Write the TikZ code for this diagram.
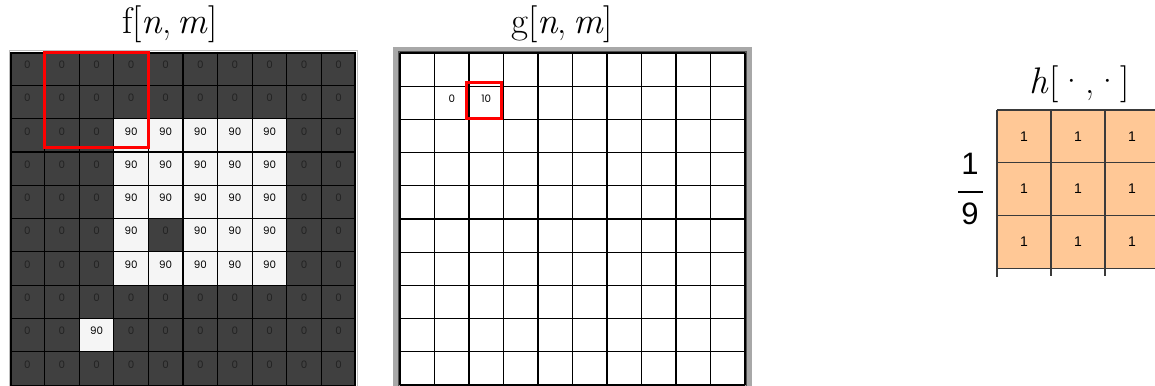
\documentclass[tikz,border=0pt]{standalone}
\usepackage{fontspec}
\newfontfamily\cellfont{Poppins}
\newfontfamily\fracfont{Liberation Sans}
\definecolor{darkcell}{HTML}{404040}
\definecolor{lightcell}{HTML}{F5F5F5}
\definecolor{darktext}{HTML}{222222}
\definecolor{peach}{HTML}{FFC896}
\definecolor{hline}{HTML}{3A3A3A}
\definecolor{framegray}{HTML}{A8A8A8}
\definecolor{frameinner}{HTML}{505050}
\definecolor{boxred}{HTML}{FF0000}
\tikzset{
  fcell/.style={rectangle,inner sep=0pt,minimum width=34.6pt,minimum height=33.3pt},
  dcell/.style={fcell,fill=darkcell},
  wcell/.style={fcell,fill=lightcell},
  gcell/.style={rectangle,inner sep=0pt,minimum width=34.5pt,minimum height=33.2pt},
  hcell/.style={rectangle,inner sep=0pt,minimum width=54pt,minimum height=52.7pt,fill=peach},
  numtxt/.style={font=\cellfont\fontsize{10.3}{12}\selectfont},
  hnum/.style={font=\fracfont\fontsize{14}{16}\selectfont},
  gridline/.style={black,line width=1.2pt},
  hgrid/.style={hline,line width=1.2pt},
  redbox/.style={boxred,line width=3pt},
  title/.style={font=\fontsize{37}{42}\selectfont,anchor=base,inner sep=0pt},
  fracnum/.style={font=\fracfont\fontsize{31}{34}\selectfont,inner sep=0pt}
}
\begin{document}
\begin{tikzpicture}[x=1pt,y=-1pt]
\useasboundingbox (0,0) rectangle (1155,385);
\clip (0,0) rectangle (1155,385);
\fill[white] (0,0) rectangle (1155,385);

% ---------- f[n,m] ----------
\node[title] (ftitle) at (170,34) {f[\textit{n},\,\textit{m}]};
\foreach \r in {0,...,9}{
  \foreach \c in {0,...,9}{
    \pgfmathtruncatemacro\isw{((\r>=2)&&(\r<=6)&&(\c>=3)&&(\c<=7)&&!((\r==5)&&(\c==4))) || ((\r==8)&&(\c==2)) ? 1 : 0}
    \ifnum\isw=1
      \node[wcell,label={[numtxt,text=black,yshift=4pt]center:90}] (f-\r-\c) at ({10+34.6*(\c+0.5)},{52+33.3*(\r+0.5)}) {};
    \else
      \node[dcell,label={[numtxt,text=darktext,yshift=4pt]center:0}] (f-\r-\c) at ({10+34.6*(\c+0.5)},{52+33.3*(\r+0.5)}) {};
    \fi
  }
}
\foreach \i in {1,...,9}{
  \draw[gridline] ({10+34.6*\i},52) -- ({10+34.6*\i},385);
  \draw[gridline] (10,{52+33.3*\i}) -- (356,{52+33.3*\i});
}
\draw[gray!50,line width=1pt] (9,51) rectangle (357,390);
\draw[black,line width=2pt] (11,53) rectangle (355,386);
\draw[redbox] (f-0-1.north west) ++(0.5,1) rectangle ([xshift=-0.5pt,yshift=4.5pt]f-2-3.south east);

% ---------- g[n,m] ----------
\node[title] (gtitle) at (562,34) {g[\textit{n},\,\textit{m}]};
\draw[framegray,line width=7pt] (396.5,50.5) rectangle (748.5,400);
\draw[frameinner,line width=1.5pt] (398.5,52) rectangle (746.5,400);
\fill[white] (400,53) rectangle (745,400);
\foreach \r in {0,...,9}{
  \foreach \c in {0,...,9}{
    \node[gcell] (g-\r-\c) at ({400+34.5*(\c+0.5)},{53+33.2*(\r+0.5)}) {};
  }
}
\node[numtxt,yshift=4pt] (g0) at (g-1-1) {0};
\node[numtxt,yshift=4pt] (g10) at (g-1-2) {10};
\foreach \i in {0,...,10}{
  \draw[gridline] ({400+34.5*\i},53) -- ({400+34.5*\i},385);
  \draw[gridline] (400,{53+33.2*\i}) -- (745,{53+33.2*\i});
}
\draw[redbox] (466.5,82.5) rectangle (501.5,118.5);

% ---------- h[.,.] ----------
\node[title] (htitle) at (1080,94) {\textit{h}[·,·]};
\foreach \r in {0,...,2}{
  \foreach \c in {0,...,2}{
    \node[hcell,label={[hnum]center:1}] (h-\r-\c) at ({997+54*(\c+0.5)},{110+52.7*(\r+0.5)}) {};
  }
}
\foreach \i in {0,...,3}{
  \draw[hgrid] (997,{110+52.7*\i}) -- (1160,{110+52.7*\i});
}
\foreach \i in {1,2}{
  \draw[hgrid] ({997+54*\i},110) -- ({997+54*\i},276);
}
\draw[hgrid,line width=2pt] (997,110) -- (997,277);
\draw[hgrid] (1159,110) -- (1159,276);

% ---------- 1/9 ----------
\node[fracnum] (one) at (970,164) {1};
\node[fracnum] (nine) at (970,214) {9};
\coordinate (barl) at (958,192);
\coordinate (barr) at (983,192);
\draw[black,line width=1.3pt] (barl) -- (barr);
\end{tikzpicture}
\end{document}
